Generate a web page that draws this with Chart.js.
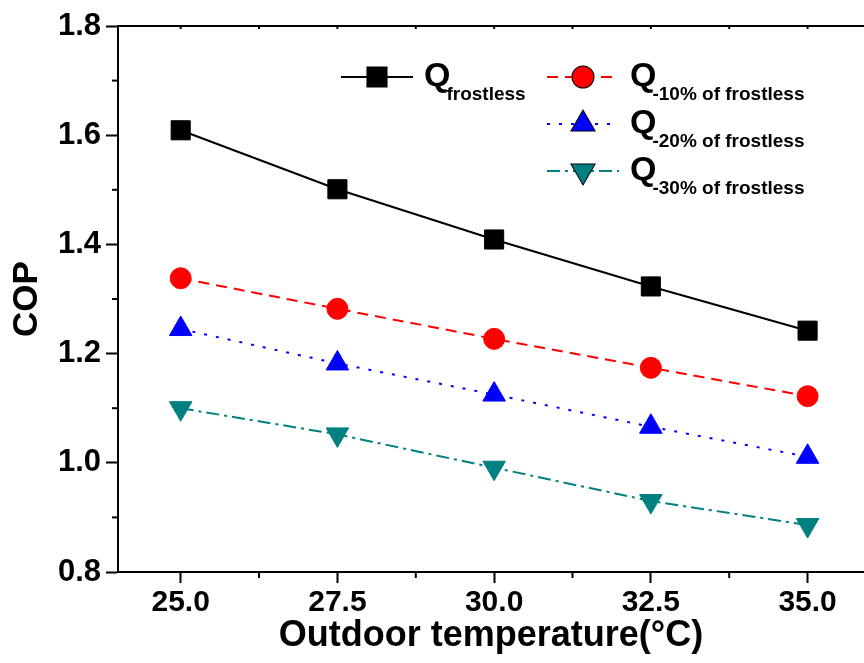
<!DOCTYPE html>
<html>
<head>
<meta charset="utf-8">
<script src="https://cdn.jsdelivr.net/npm/chart.js@4"></script>
<style>
  html, body { margin: 0; padding: 0; background: #fff; }
  #wrap { width: 864px; height: 663px; }
</style>
</head>
<body>
<div id="wrap"><canvas id="myChart" width="864" height="663"></canvas></div>
<script>
// data
const temps = [25.0, 27.5, 30.0, 32.5, 35.0];
const copFrostless = [1.609, 1.501, 1.409, 1.323, 1.242];
const copMinus10 = [1.338, 1.282, 1.227, 1.174, 1.122];
const copMinus20 = [1.245, 1.182, 1.125, 1.066, 1.011];
const copMinus30 = [1.100, 1.052, 0.991, 0.930, 0.886];

const xMajorTicks = [25.0, 27.5, 30.0, 32.5, 35.0];
const xMinorTicks = [26.25, 28.75, 31.25, 33.75];
const yMajorTicks = [0.8, 1.0, 1.2, 1.4, 1.6, 1.8];
const yMinorTicks = [0.9, 1.1, 1.3, 1.5, 1.7];

const seriesNames = ["frostless", "-10% of frostless", "-20% of frostless", "-30% of frostless"];

const FONT = "'Liberation Sans', Arial, sans-serif";

const toPoints = (ys) => temps.map((t, i) => ({ x: t, y: ys[i] }));

const makeSet = (label, ys, color, dash, style, radius, rotation) => ({
  label: label,
  data: toPoints(ys),
  borderColor: color,
  backgroundColor: color,
  borderWidth: 2,
  borderDash: dash,
  pointStyle: style,
  pointRadius: radius,
  pointHoverRadius: radius,
  pointRotation: rotation,
  pointBorderWidth: 1,
  pointBorderColor: color,
  pointBackgroundColor: color,
  tension: 0,
});

const datasets = [
  makeSet(seriesNames[0], copFrostless, "#000000", [], "rect", 13.5, 0),
  makeSet(seriesNames[1], copMinus10, "#ff0000", [11, 7], "circle", 10.5, 0),
  makeSet(seriesNames[2], copMinus20, "#0000ff", [3, 9], "triangle", 13, 0),
  makeSet(seriesNames[3], copMinus30, "#008080", [13, 5, 3, 5], "triangle", 13, 180),
];

// minor ticks, top frame line and the legend with subscripts
const extrasPlugin = {
  id: "extras",
  afterDraw(chart) {
    const ctx = chart.ctx;
    const area = chart.chartArea;
    const xs = chart.scales.x;
    const ys = chart.scales.y;
    ctx.save();
    ctx.strokeStyle = "#000";
    ctx.lineWidth = 2;

    // top frame
    ctx.beginPath();
    ctx.moveTo(area.left - 1, area.top);
    ctx.lineTo(area.right, area.top);
    ctx.stroke();

    // minor ticks outward
    yMinorTicks.forEach((v) => {
      const py = ys.getPixelForValue(v);
      ctx.beginPath();
      ctx.moveTo(area.left, py);
      ctx.lineTo(area.left - 6, py);
      ctx.stroke();
    });
    xMinorTicks.forEach((v) => {
      const px = xs.getPixelForValue(v);
      ctx.beginPath();
      ctx.moveTo(px, area.bottom);
      ctx.lineTo(px, area.bottom + 6);
      ctx.stroke();
    });
    // small inward ticks on the top frame
    xMajorTicks.concat(xMinorTicks).forEach((v) => {
      const px = xs.getPixelForValue(v);
      ctx.beginPath();
      ctx.moveTo(px, area.top);
      ctx.lineTo(px, area.top + 3);
      ctx.stroke();
    });

    // legend
    const entries = [
      { x: area.left + 223, y: area.top + 51 },
      { x: area.left + 429, y: area.top + 51 },
      { x: area.left + 429, y: area.top + 98 },
      { x: area.left + 429, y: area.top + 145 },
    ];
    chart.data.datasets.forEach((ds, i) => {
      const e = entries[i];
      ctx.save();
      ctx.strokeStyle = ds.borderColor;
      ctx.lineWidth = 2;
      ctx.setLineDash(ds.borderDash);
      ctx.beginPath();
      ctx.moveTo(e.x, e.y);
      ctx.lineTo(e.x + 72, e.y);
      ctx.stroke();
      ctx.restore();
      Chart.helpers.drawPoint(ctx, {
        pointStyle: ds.pointStyle,
        radius: ds.pointRadius,
        rotation: ds.pointRotation,
        borderWidth: 1,
      }, e.x + 36, e.y);
      ctx.fillStyle = ds.backgroundColor;
      ctx.fill();

      ctx.fillStyle = "#000";
      ctx.textBaseline = "alphabetic";
      ctx.textAlign = "left";
      ctx.font = "bold 34px " + FONT;
      const qx = e.x + 83;
      ctx.fillText("Q", qx, e.y + 9);
      const qw = ctx.measureText("Q").width;
      ctx.font = "bold 19px " + FONT;
      ctx.fillText(ds.label, qx + qw - 4, e.y + 23);
    });
    ctx.restore();
  },
};

const config = {
  type: "line",
  data: { datasets: datasets },
  plugins: [extrasPlugin],
  options: {
    responsive: false,
    animation: false,
    events: [],
    layout: { autoPadding: false, padding: { top: 26, right: 0, left: 0, bottom: 0 } },
    plugins: {
      legend: { display: false },
      tooltip: { enabled: false },
    },
    scales: {
      x: {
        type: "linear",
        min: 24,
        max: 35.9,
        afterBuildTicks: (scale) => {
          scale.ticks = xMajorTicks.map((v) => ({ value: v }));
        },
        afterFit: (scale) => {
          scale.height = 91;
        },
        border: { display: true, color: "#000", width: 2 },
        grid: {
          drawOnChartArea: false,
          tickLength: 11,
          tickWidth: 2,
          tickColor: "#000",
        },
        ticks: {
          color: "#000",
          padding: 2,
          font: { family: FONT, size: 30, weight: "bold" },
          maxRotation: 0,
          callback: (v) => Number(v).toFixed(1),
        },
        title: {
          display: true,
          text: "Outdoor temperature(\u00B0C)",
          color: "#000",
          padding: { top: 0, bottom: 5 },
          font: { family: FONT, size: 36, weight: "bold" },
        },
      },
      y: {
        type: "linear",
        min: 0.8,
        max: 1.8,
        afterBuildTicks: (scale) => {
          scale.ticks = yMajorTicks.map((v) => ({ value: v }));
        },
        afterFit: (scale) => {
          scale.width = 118;
        },
        border: { display: true, color: "#000", width: 2 },
        grid: {
          drawOnChartArea: false,
          tickLength: 12,
          tickWidth: 2,
          tickColor: "#000",
        },
        ticks: {
          color: "#000",
          padding: 5,
          font: { family: FONT, size: 31, weight: "bold" },
          callback: (v) => Number(v).toFixed(1),
        },
        title: {
          display: true,
          text: "COP",
          color: "#000",
          padding: { top: 6, bottom: 0 },
          font: { family: FONT, size: 35, weight: "bold" },
        },
      },
    },
  },
};

window.addEventListener("load", () => {
  new Chart(document.getElementById("myChart"), config);
});
</script>
</body>
</html>
